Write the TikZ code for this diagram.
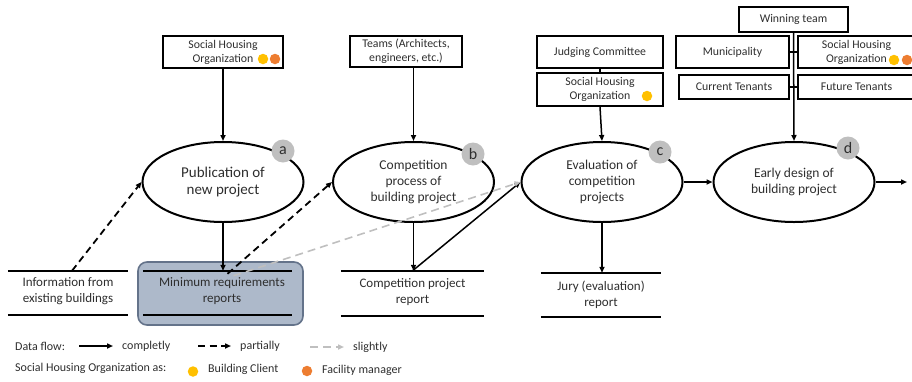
\documentclass[tikz,border=0pt]{standalone}
\usepackage{fontspec}
\setmainfont{Carlito}
\usetikzlibrary{shapes.geometric,arrows.meta}

\definecolor{txt}{HTML}{2E2E2E}
\definecolor{clientc}{HTML}{FFC000}
\definecolor{fmc}{HTML}{ED7D31}
\definecolor{badgec}{HTML}{BFBFBF}
\definecolor{slightc}{HTML}{BFBFBF}
\definecolor{storefill}{HTML}{ADB9CA}
\definecolor{storeedge}{HTML}{64738A}

\tikzset{
  actor/.style={draw, line width=2pt, inner sep=0pt, align=center, text=txt,
    font=\fontsize{11.8}{14}\selectfont},
  activity/.style={draw, ellipse, line width=2pt, minimum width=161, minimum height=80,
    inner sep=0pt, align=center, text=txt, font=\fontsize{13.5}{16}\selectfont},
  store/.style={inner sep=0pt, align=center, text=txt, minimum height=44,
    font=\fontsize{13}{16}\selectfont},
  storeline/.style={line width=2.2pt},
  badge/.style={circle, fill=badgec, minimum size=23, inner sep=0pt, text=txt,
    font=\fontsize{16}{16}\selectfont},
  full/.style={line width=1.5pt, -{Triangle[length=6pt,width=5pt]}},
  partial/.style={line width=1.8pt, dash pattern=on 7pt off 4.5pt, -{Triangle[length=6pt,width=5pt]}},
  slight/.style={line width=1.6pt, draw=slightc, dash pattern=on 8pt off 5pt,
    -{Triangle[length=6pt,width=5pt,fill=slightc]}},
  dot/.style={circle, minimum size=10.5, inner sep=0pt},
  legend/.style={anchor=west, inner sep=0pt, text=txt, font=\fontsize{12}{14}\selectfont},
}

\begin{document}
\begin{tikzpicture}[x=1pt,y=-1pt]
\useasboundingbox (0,0) rectangle (912,381);

% --- participants ---
\node[actor, minimum width=120, minimum height=32] (sho1) at (223,52) {Social Housing\\Organization};
\node[actor, minimum width=112, minimum height=31] (teams) at (406,51.5) {Teams (Architects,\\engineers, etc.)};
\node[actor, minimum width=126, minimum height=32] (jc) at (600,52) {Judging Committee};
\node[actor, minimum width=126, minimum height=33] (sho3) at (600,89.5) {Social Housing\\Organization};
\node[actor, minimum width=109, minimum height=25] (win) at (793.5,19.5) {Winning team};
\node[actor, minimum width=113, minimum height=32] (mun) at (732.5,52) {Municipality};
\node[actor, minimum width=117, minimum height=32] (sho4) at (856.5,52) {Social Housing\\Organization};
\node[actor, minimum width=110, minimum height=24] (cur) at (734,87) {Current Tenants};
\node[actor, minimum width=117, minimum height=24] (fut) at (856.5,87) {Future Tenants};

% role markers
\node[dot, fill=clientc] (d1a) at (263,59) {};
\node[dot, fill=fmc] (d1b) at (275,59) {};
\node[dot, fill=clientc] (d3a) at (647,96) {};
\node[dot, fill=clientc] (d4a) at (894,60) {};
\node[dot, fill=fmc] (d4b) at (907,60) {};

% --- activities ---
\node[activity, font=\fontsize{15}{17.5}\selectfont] (ea) at (223,182) {Publication of\\new project};
\node[activity] (eb) at (413.5,182) {Competition\\process of\\building project};
\node[activity] (ec) at (602,182) {Evaluation of\\competition\\projects};
\node[activity] (ed) at (794,182) {Early design of\\building project};

\node[badge] (ba) at (283,151) {a};
\node[badge] (bb) at (473,154) {b};
\node[badge] (bc) at (660,152) {c};
\node[badge] (bd) at (848,148) {d};

% --- data stores ---
\node[store, minimum width=120] (info) at (68,293) {};
\node[store] (infotext) at (68,291) {Information from\\existing buildings};
\node[draw=storeedge, fill=storefill, line width=1.6pt, rounded corners=9pt,
      minimum width=165, minimum height=63, inner sep=0pt] (minreq) at (220.5,293.5) {};
\node[store, minimum width=149] (mrstore) at (217.5,293) {};
\node[store] (mrtext) at (222,291) {Minimum requirements\\reports};
\node[store, minimum width=143, minimum height=45] (comp) at (412.5,293.5) {};
\node[store] (comptext) at (412.5,292) {Competition project\\report};
\node[store, minimum width=120] (jury) at (601,295) {};
\node[store] (jurytext) at (601,294.5) {Jury (evaluation)\\report};

\foreach \s in {info,mrstore,comp,jury}{
  \draw[storeline] (\s.north west) -- (\s.north east);
  \draw[storeline] (\s.south west) -- (\s.south east);
}

% --- links between participants ---
\draw[line width=1.5pt] (jc.south) -- (sho3.north);
\draw[line width=1.5pt] (mun.east) -- (sho4.west);
\draw[line width=1.5pt] (cur.east) -- (fut.west);

% --- data flows ---
\draw[full] (sho1.south) -- (ea.north);
\draw[full] (teams.south -| eb.north) -- (eb.north);
\draw[full] (sho3.south) -- (ec.north);
\draw[full] (win.south) -- (ed.north);
\draw[full] (ec.east) -- (ed.west);
\coordinate (next) at (907,182);
\draw[full] (ed.east) -- (next);

\draw[full] (ea.south) -- (ea.south |- mrstore.north);
\draw[full] (eb.south) -- (eb.south |- comp.north);
\draw[full] (ec.south) -- (ec.south |- jury.north);
\draw[full] (comp.north) -- (ec.west);

\draw[partial] ([xshift=4pt]info.north) -- (ea.west);
\draw[partial] ([xshift=10pt,yshift=-3pt]mrstore.north) -- (eb.west);
\draw[slight] ([xshift=16pt,yshift=-5pt]mrstore.north) -- (ec.west);

% --- legend ---
\node[legend] (lgflow) at (15,346) {Data flow:};
\coordinate (l1a) at (79,346); \coordinate (l1b) at (113,346);
\draw[full] (l1a) -- (l1b);
\node[legend] (lgfull) at (122,346) {completly};
\coordinate (l2a) at (198,346); \coordinate (l2b) at (231,346);
\draw[partial] (l2a) -- (l2b);
\node[legend] (lgpart) at (240,346) {partially};
\coordinate (l3a) at (310,347); \coordinate (l3b) at (344,347);
\draw[slight] (l3a) -- (l3b);
\node[legend] (lgslight) at (353,347) {slightly};

\node[legend] (lgrole) at (15,368) {Social Housing Organization as:};
\node[dot, fill=clientc] (lgdot1) at (193,371.5) {};
\node[legend] (lgclient) at (208,369) {Building Client};
\node[dot, fill=fmc] (lgdot2) at (307,371) {};
\node[legend] (lgfm) at (322,370) {Facility manager};
\end{tikzpicture}
\end{document}
